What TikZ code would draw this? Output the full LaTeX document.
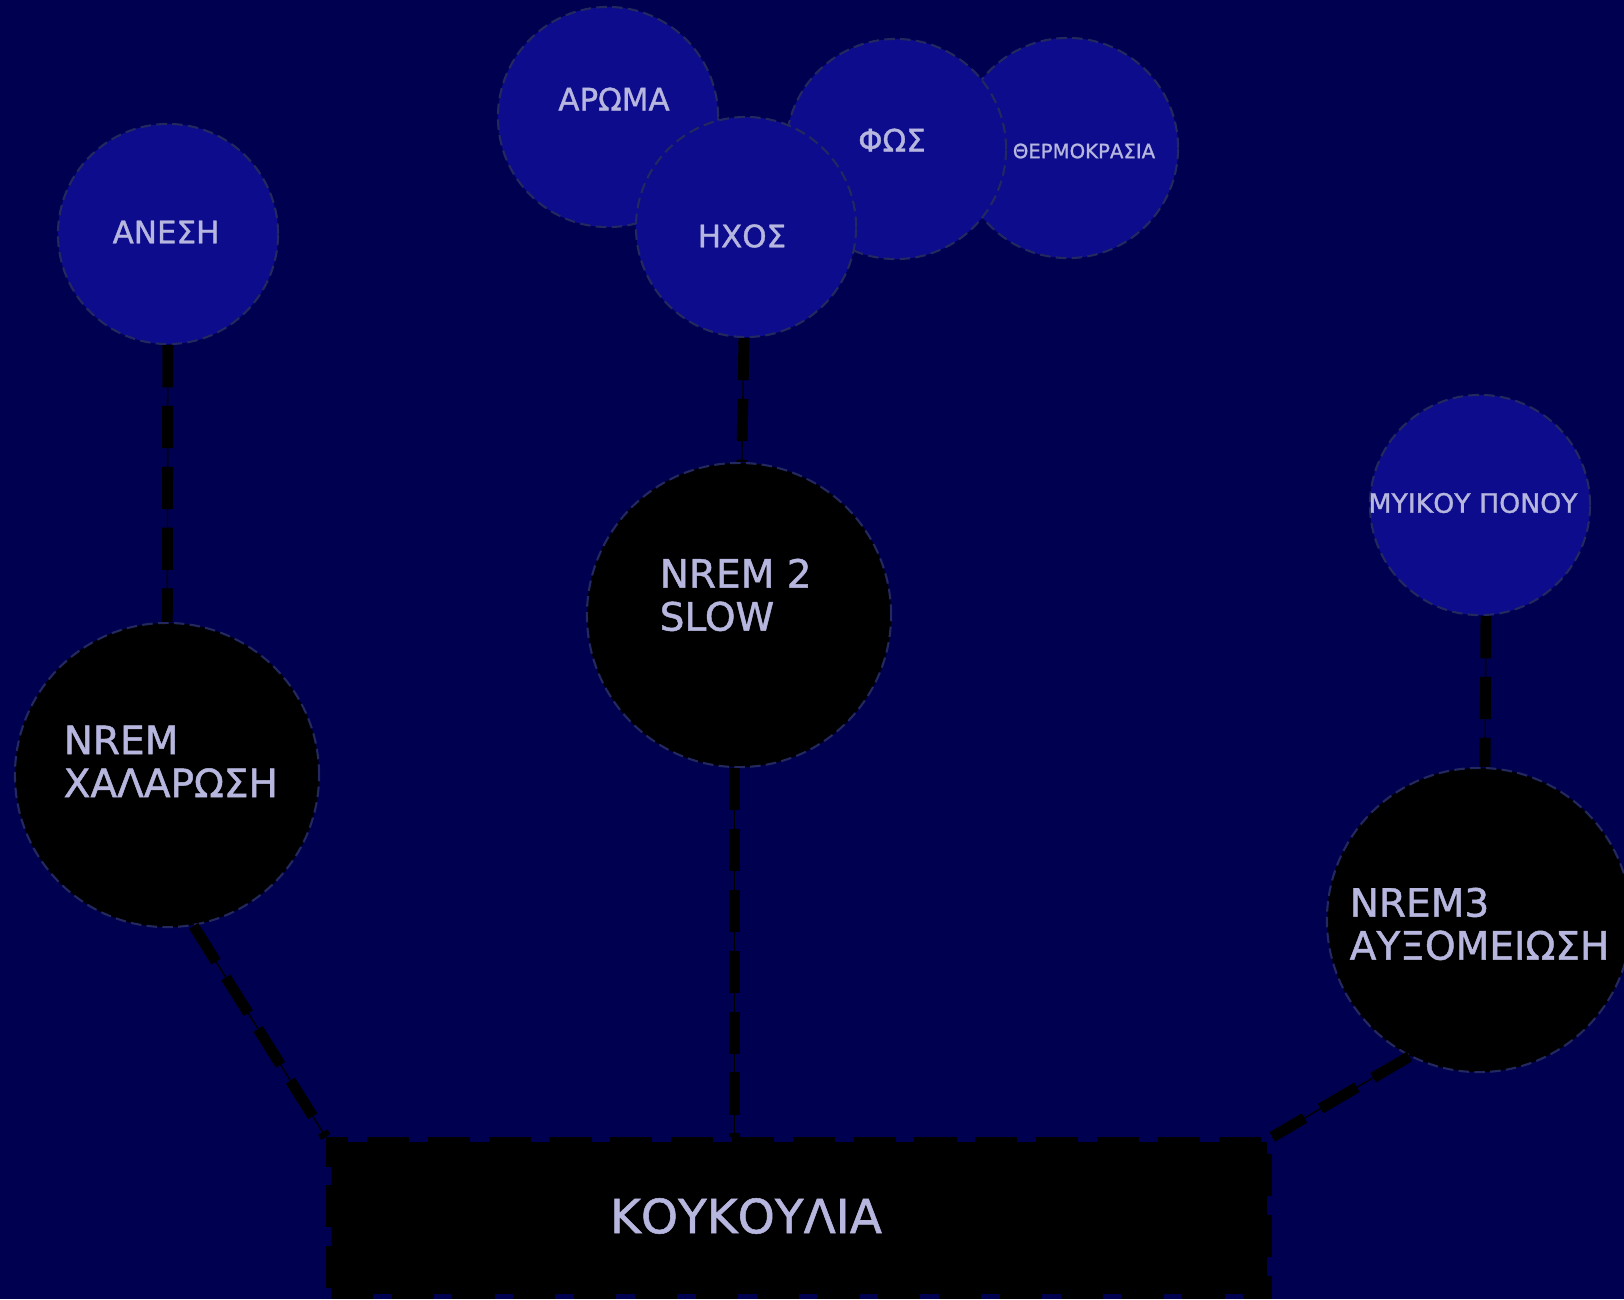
\documentclass[tikz,border=0pt]{standalone}
\usepackage{fontspec}
\setmainfont{DejaVu Sans}[FakeBold=1.2]
\definecolor{nightbg}{RGB}{0,0,80}
\definecolor{bubblefill}{RGB}{12,12,140}
\definecolor{rimline}{RGB}{35,40,95}
\definecolor{labeltxt}{RGB}{182,182,222}

\begin{document}
\begin{tikzpicture}[x=0.01cm,y=-0.01cm,
  bubble/.style={circle,fill=bubblefill,draw=rimline,line width=0.6pt,dash pattern=on 3pt off 1.5pt,minimum size=2.2cm,inner sep=0pt},
  stage/.style={circle,fill=black,draw=rimline,line width=0.6pt,dash pattern=on 3pt off 1.5pt,minimum size=3.04cm,inner sep=0pt},
  cocoon/.style={rectangle,fill=black,draw=black,line width=2.85pt,dash pattern=on 12pt off 5.3pt,minimum width=9.36cm,minimum height=1.52cm,inner sep=0pt},
  txt/.style={text=labeltxt,inner sep=0pt,font=\fontsize{8.8}{10}\selectfont},
  stagetxt/.style={text=labeltxt,inner sep=0pt,align=left,anchor=north west,font=\fontsize{11.1}{12.2}\selectfont},
  link/.style={draw=black,line width=3.1pt,dash pattern=on 12pt off 5.3pt,preaction={draw=black,solid,line width=0.4pt}}]
  \useasboundingbox (0,0) rectangle (1624,1299);
  \fill[nightbg] (0,0) rectangle (1624,1299);

  \node[bubble] (therm) at (1068,148) {};
  \node[bubble] (aroma) at (608,117) {};
  \node[bubble] (fos) at (896,149) {};
  \node[bubble] (ixos) at (746,227) {};
  \node[bubble] (anesi) at (168,234) {};
  \node[bubble] (myikou) at (1480,505) {};

  \node[stage] (nrem1) at (167,775) {};
  \node[stage] (nrem2) at (739,615) {};
  \node[stage] (nrem3) at (1479,920) {};
  \node[cocoon] (koukoulia) at (799,1218) {};

  \draw[link] (anesi) -- (nrem1);
  \draw[link] (ixos) -- (nrem2);
  \draw[link] ([xshift=-1.2pt]nrem2.south) -- ([xshift=-1.2pt]nrem2.south |- koukoulia.north);
  \draw[link] (nrem1.-80) -- (koukoulia.north west);
  \draw[link] ([xshift=1.7pt]myikou.south) -- ([xshift=1.7pt]nrem3.north);
  \draw[link] (nrem3.-117) -- (koukoulia.north east);

  \node[txt] (anesitxt) at (166,232) {ΑΝΕΣΗ};
  \node[txt] (aromatxt) at (614,99) {ΑΡΩΜΑ};
  \node[txt] (ixostxt) at (742,236) {ΗΧΟΣ};
  \node[txt] (fostxt) at (892,140) {ΦΩΣ};
  \node[txt,font=\fontsize{5.6}{7}\selectfont] (thermtxt) at (1084,151) {ΘΕΡΜΟΚΡΑΣΙΑ};
  \node[txt,font=\fontsize{7.6}{8}\selectfont] (myikoutxt) at (1473,503) {ΜΥΙΚΟΥ ΠΟΝΟΥ};
  \node[stagetxt] (nrem1txt) at (63,725) {NREM\\ΧΑΛΑΡΩΣΗ};
  \node[stagetxt] (nrem2txt) at (659,558) {NREM 2\\SLOW};
  \node[stagetxt] (nrem3txt) at (1349,887) {NREM3\\ΑΥΞΟΜΕΙΩΣΗ};
  \node[txt,font=\fontsize{13.4}{15}\selectfont] (kouktxt) at (746,1216) {ΚΟΥΚΟΥΛΙΑ};
\end{tikzpicture}
\end{document}
